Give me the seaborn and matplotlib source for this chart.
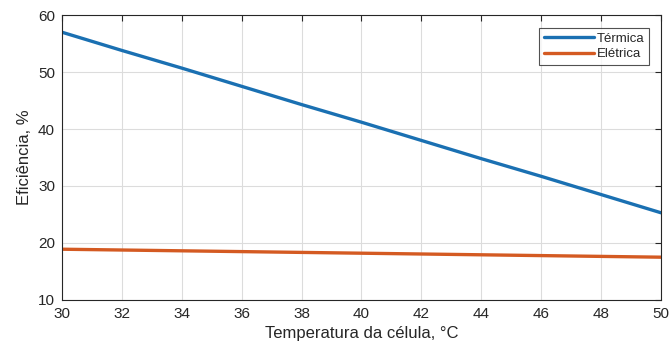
import numpy as np
import pandas as pd
import matplotlib
matplotlib.use("Agg")
import matplotlib.pyplot as plt
import seaborn as sns

# ── dados ──────────────────────────────────────────────
temperatura = [30, 32, 34, 36, 38, 40, 42, 44, 46, 48, 50]
ef_termica = [57.0, 53.8, 50.7, 47.5, 44.3, 41.2, 38.0, 34.8, 31.7, 28.5, 25.3]
ef_eletrica = [18.9, 18.76, 18.62, 18.48, 18.34, 18.2, 18.06, 17.92, 17.78, 17.64, 17.5]

df = pd.DataFrame({
    "T": temperatura * 2,
    "ef": ef_termica + ef_eletrica,
    "serie": ["Térmica"] * len(temperatura) + ["Elétrica"] * len(temperatura),
})

sns.set_style("white")
plt.rcParams["font.family"] = ["Liberation Sans", "DejaVu Sans"]

fig = plt.figure(figsize=(6.7, 3.52), dpi=100)
ax = fig.add_axes([0.0925, 0.148, 0.894, 0.809])

sns.lineplot(data=df, x="T", y="ef", hue="serie",
             palette=["#1a70b2", "#d45a22"], linewidth=2.4, ax=ax)

ax.set_xlim(30, 50)
ax.set_ylim(10, 60)
ax.set_xticks(np.arange(30, 51, 2))
ax.set_yticks(np.arange(10, 61, 10))
ax.grid(True, color="#dcdcdc", linewidth=0.8)
for s in ax.spines.values():
    s.set_color("#262626")
    s.set_linewidth(0.8)
ax.tick_params(direction="in", length=4, top=True, right=True,
               colors="#262626", labelsize=11, pad=5)
ax.set_xlabel("Temperatura da célula, °C", fontsize=12, color="#262626")
ax.set_ylabel("Eficiência, %", fontsize=12, color="#262626")

leg = ax.legend(loc="upper right", bbox_to_anchor=(0.98, 0.955), fontsize=9.5,
                frameon=True, fancybox=False, edgecolor="#262626",
                handlelength=3.8, handletextpad=0.2, borderpad=0.35,
                labelspacing=0.25, borderaxespad=0)
leg.get_frame().set_linewidth(0.8)

fig.savefig("out.png", dpi=100)
